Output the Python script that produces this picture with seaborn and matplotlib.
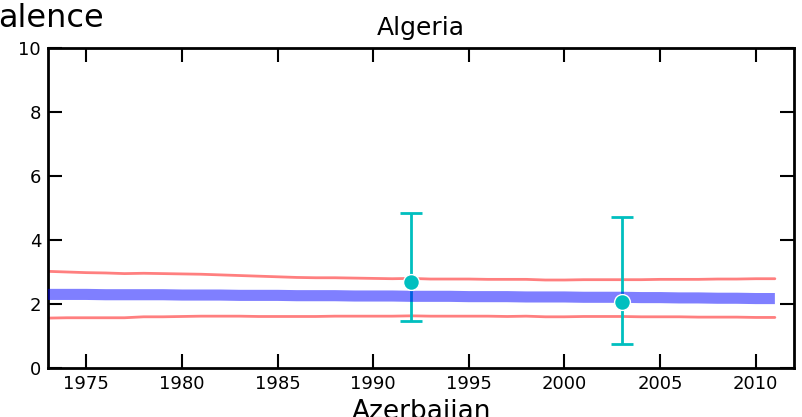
import matplotlib
matplotlib.use("Agg")
import matplotlib.pyplot as plt
import numpy as np
import pandas as pd
import seaborn as sns

# model fit years and estimates
years = list(range(1973, 2012))
fit_mid = [2.30, 2.30, 2.30, 2.29, 2.29, 2.29, 2.29, 2.28, 2.28, 2.28,
           2.27, 2.27, 2.27, 2.26, 2.26, 2.26, 2.25, 2.25, 2.25, 2.24,
           2.24, 2.24, 2.23, 2.23, 2.23, 2.22, 2.22, 2.22, 2.21, 2.21,
           2.21, 2.20, 2.20, 2.19, 2.19, 2.18, 2.18, 2.17, 2.17]
fit_upper = [3.02, 3.00, 2.98, 2.97, 2.95, 2.96, 2.95, 2.94, 2.93, 2.91,
             2.89, 2.87, 2.85, 2.83, 2.82, 2.82, 2.81, 2.80, 2.79, 2.80,
             2.78, 2.78, 2.78, 2.77, 2.77, 2.77, 2.75, 2.75, 2.76, 2.76,
             2.76, 2.76, 2.77, 2.77, 2.77, 2.78, 2.78, 2.79, 2.79]
fit_lower = [1.56, 1.57, 1.57, 1.57, 1.57, 1.60, 1.60, 1.61, 1.62, 1.62,
             1.62, 1.61, 1.61, 1.61, 1.61, 1.62, 1.62, 1.62, 1.62, 1.63,
             1.62, 1.62, 1.62, 1.62, 1.61, 1.62, 1.60, 1.60, 1.61, 1.61,
             1.61, 1.60, 1.60, 1.60, 1.59, 1.59, 1.59, 1.58, 1.58]

# observed data points with uncertainty
obs_years = [1992, 2003]
obs_value = [2.70, 2.07]
obs_low = [1.48, 0.75]
obs_high = [4.85, 4.73]

sns.set_style("ticks")
plt.rcParams["font.family"] = ["DejaVu Sans"]
plt.rcParams["text.color"] = "black"

fig = plt.figure(figsize=(8.03, 4.17), dpi=100)
ax = fig.add_axes([0.0598, 0.1175, 0.929, 0.7674])

df = pd.DataFrame({"year": years, "mid": fit_mid, "upper": fit_upper, "lower": fit_lower})
sns.lineplot(data=df, x="year", y="upper", ax=ax, color="red", alpha=0.5, lw=2, zorder=1)
sns.lineplot(data=df, x="year", y="lower", ax=ax, color="red", alpha=0.5, lw=2, zorder=1)

obs = pd.DataFrame({"year": obs_years, "value": obs_value, "low": obs_low, "high": obs_high})
ax.errorbar(obs["year"], obs["value"],
            yerr=[obs["value"] - obs["low"], obs["high"] - obs["value"]],
            fmt="none", ecolor="c", elinewidth=2, capsize=8, capthick=2, zorder=2)

sns.lineplot(data=df, x="year", y="mid", ax=ax, color="blue", alpha=0.5, lw=8,
             solid_capstyle="butt", zorder=3)
sns.scatterplot(data=obs, x="year", y="value", ax=ax, color="c", s=130,
                edgecolor="white", linewidth=1, zorder=5)

ax.set_xlim(1973, 2012)
ax.set_ylim(0, 10)
ax.set_xticks([1975, 1980, 1985, 1990, 1995, 2000, 2005, 2010])
ax.set_yticks([0, 2, 4, 6, 8, 10])
ax.set_xlabel("")
ax.set_ylabel("")
ax.tick_params(direction="in", length=10, width=1.5, top=True, right=True,
               labelsize=13, colors="black", pad=5)
for s in ax.spines.values():
    s.set_linewidth(2)
    s.set_color("black")
ax.set_title("Algeria", fontsize=18, pad=9, color="black")

fig.text(-0.002, 0.955, "alence", fontsize=23, ha="left", va="center", color="black")
fig.text(0.525, -0.005, "Azerbaijan", fontsize=19, ha="center", va="baseline", color="black")

fig.savefig("out.png", dpi=100)
